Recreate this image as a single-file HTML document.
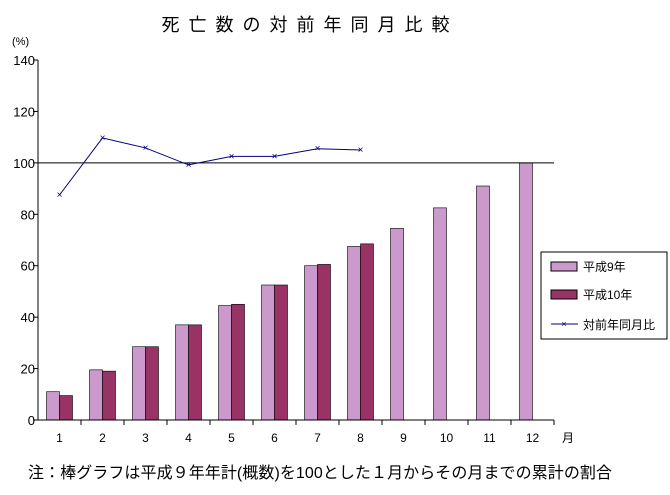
<!DOCTYPE html>
<html><head><meta charset="utf-8"><style>
body{margin:0;background:#fff;}
svg text{font-family:"Liberation Sans","Noto Sans CJK JP",sans-serif;}
</style></head><body>
<svg id="c" width="670" height="490" xmlns="http://www.w3.org/2000/svg">
<text x="310" y="31" font-size="18" text-anchor="middle" letter-spacing="9">死亡数の対前年同月比較</text>
<text x="12" y="45" font-size="11">(%)</text>
<text x="562" y="442" font-size="12">月</text>
<text x="28" y="478" font-size="16" textLength="584">注：棒グラフは平成９年年計(概数)を100とした１月からその月までの累計の割合</text>
<g id="plot"></g>
<g>
<rect x="541" y="252" width="126" height="87" fill="#fff" stroke="#000"/>
<rect x="551" y="262" width="26" height="9" fill="#cc99cc" stroke="#000"/>
<text x="583" y="271" font-size="12">平成9年</text>
<rect x="551" y="290" width="26" height="9" fill="#993366" stroke="#000"/>
<text x="583" y="299" font-size="12">平成10年</text>
<line x1="551" y1="324" x2="578" y2="324" stroke="#000080"/>
<text x="564" y="327" font-size="9" fill="#000080" text-anchor="middle">×</text>
<text x="583" y="329" font-size="12">対前年同月比</text>
</g>
</svg>
<script>
const months=["1","2","3","4","5","6","7","8","9","10","11","12"];
const h9=[11,19.5,28.5,37,44.5,52.5,60,67.5,74.5,82.5,91,100];
const h10=[9.5,19,28.5,37,45,52.5,60.5,68.5];
const ratio=[87.5,109.7,105.8,99.2,102.5,102.5,105.5,105];
const yTicks=[0,20,40,60,80,100,120,140];
const NS="http://www.w3.org/2000/svg";
const g=document.getElementById('plot');
const X0=38,X1=554,Y0=420,Y1=60,MAX=140;
const bw=(X1-X0)/months.length;
const y=v=>Y0-(Y0-Y1)*v/MAX;
const xc=i=>X0+bw*(i+0.5);
function mk(t,a){const e=document.createElementNS(NS,t);for(const k in a)e.setAttribute(k,a[k]);g.appendChild(e);return e;}
yTicks.forEach(v=>{
 const l=mk('line',{x1:X0-5,x2:X0,y1:y(v),y2:y(v),stroke:'#000'});
 
 
 const t=mk('text',{x:X0-3,y:y(v)+5,'font-size':13,'text-anchor':'end'});t.textContent=v;
 
 
});
months.forEach((m,i)=>{
 const l=mk('line',{x1:X0+bw*(i+1),x2:X0+bw*(i+1),y1:Y0,y2:Y0+5,stroke:'#000'});
 
 
 const t=mk('text',{x:xc(i),y:Y0+22,'font-size':12,'text-anchor':'middle'});t.textContent=m;
 
 
});
h9.forEach((v,i)=>{
 const r=mk('rect',{x:xc(i)-13,y:y(v),width:13,height:Y0-y(v),fill:'#cc99cc',stroke:'#000','stroke-width':0.6});
 
 
});
h10.forEach((v,i)=>{
 const r=mk('rect',{x:xc(i),y:y(v),width:13,height:Y0-y(v),fill:'#993366',stroke:'#000','stroke-width':0.6});
 
 
});
const ref=mk('line',{x1:X0,x2:X1,y1:y(100),y2:y(100),stroke:'#000'});


const ax=mk('line',{x1:X0,x2:X0,y1:Y1,y2:Y0,stroke:'#000'});


const bx=mk('line',{x1:X0,x2:X1,y1:Y0,y2:Y0,stroke:'#000'});


const pl=mk('polyline',{points:ratio.map((v,i)=>xc(i)+','+y(v)).join(' '),fill:'none',stroke:'#000080'});


ratio.forEach((v,i)=>{
 const t=mk('text',{x:xc(i),y:y(v)+3,'font-size':10,fill:'#000080','text-anchor':'middle'});t.textContent='×';
 
 
});
</script>
</body></html>
